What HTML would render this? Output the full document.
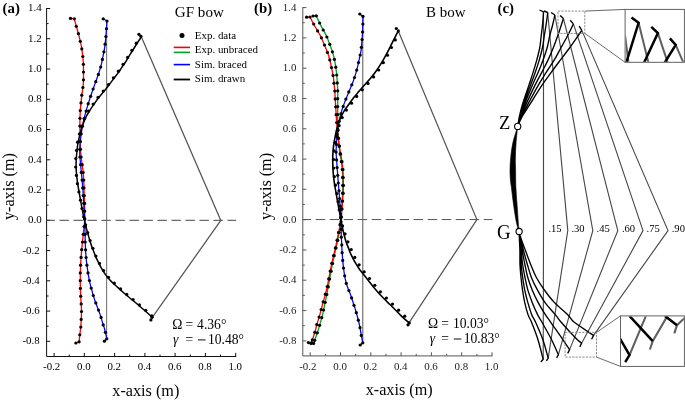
<!DOCTYPE html>
<html><head><meta charset="utf-8"><title>Bow figure</title>
<style>html,body{margin:0;padding:0;background:#fff;}body{width:685px;height:401px;overflow:hidden;font-family:"Liberation Serif",serif;}svg{display:block;will-change:transform;}</style></head>
<body>
<svg width="685" height="401" viewBox="0 0 685 401" font-family="'Liberation Serif', serif" fill="#000">
<rect width="685" height="401" fill="#fff"/>
<path d="M46.6 8V356.5H236.2M46.6 341.3h3.6M46.6 326.2h2M46.6 311.1h3.6M46.6 296h2M46.6 280.8h3.6M46.6 265.7h2M46.6 250.6h3.6M46.6 235.4h2M46.6 220.3h3.6M46.6 205.2h2M46.6 190h3.6M46.6 174.9h2M46.6 159.8h3.6M46.6 144.7h2M46.6 129.5h3.6M46.6 114.4h2M46.6 99.3h3.6M46.6 84.1h2M46.6 69h3.6M46.6 53.9h2M46.6 38.7h3.6M46.6 23.6h2M46.6 8.5h3.6M54.1 356.5v-3.6M69.2 356.5v-2M84.3 356.5v-3.6M99.5 356.5v-2M114.6 356.5v-3.6M129.7 356.5v-2M144.9 356.5v-3.6M160 356.5v-2M175.1 356.5v-3.6M190.3 356.5v-2M205.4 356.5v-3.6M220.5 356.5v-2M235.7 356.5v-3.6" fill="none" stroke="#111" stroke-width="1"/><g font-size="10.9" fill="#000"><g text-anchor="end"><text x="39.7" y="344.2">-0.8</text><text x="39.7" y="314">-0.6</text><text x="39.7" y="283.7">-0.4</text><text x="39.7" y="253.5">-0.2</text><text x="41.6" y="223.2">0.0</text><text x="41.6" y="192.9">0.2</text><text x="41.6" y="162.7">0.4</text><text x="41.6" y="132.4">0.6</text><text x="41.6" y="102.2">0.8</text><text x="41.6" y="71.9">1.0</text><text x="41.6" y="41.6">1.2</text><text x="41.6" y="11.4">1.4</text></g><g text-anchor="middle"><text x="51.7" y="370.1">-0.2</text><text x="83.9" y="370.1">0.0</text><text x="114.2" y="370.1">0.2</text><text x="144.5" y="370.1">0.4</text><text x="174.7" y="370.1">0.6</text><text x="205" y="370.1">0.8</text><text x="235.2" y="370.1">1.0</text></g></g>
<path d="M46.6 220.3H236.2" stroke="#444" stroke-width="1" stroke-dasharray="9.4 4.6" stroke-dashoffset="1.1" fill="none"/>
<path d="M106.65 21V338.8" stroke="#6a6a6a" stroke-width="1" fill="none"/><path d="M141.5 37.2L220.8 220.4L152.3 317.4" stroke="#555" stroke-width="1.25" fill="none" stroke-linejoin="miter"/>
<path d="M70.5 18.4L74.3 18.8C74.7 20.4 76 25.1 76.9 28.3C77.8 31.5 78.7 34.8 79.5 37.9C80.3 41 81 44.2 81.5 46.9C82 49.6 82.2 51.7 82.5 54.2C82.8 56.8 83.1 59.6 83.3 62.2C83.5 64.8 83.5 67.3 83.5 69.8C83.5 72.3 83.5 74.8 83.5 77.4C83.5 80 83.4 82.7 83.2 85.3C83 87.9 82.4 90.6 82.1 93C81.8 95.4 81.6 97.4 81.3 99.9C81 102.4 80.7 105.4 80.5 107.9C80.3 110.4 80.2 112.4 80.1 114.9C80 117.4 79.9 120.4 79.9 122.9C79.9 125.4 79.9 127.3 79.9 129.8C79.9 132.3 80 135.1 80.1 137.8C80.2 140.5 80.2 143.3 80.3 145.8C80.4 148.3 80.5 150.4 80.7 152.8C80.9 155.2 81.1 157.1 81.5 160C81.9 162.9 82.5 166.7 82.9 170C83.3 173.3 83.5 176.7 83.7 180C83.9 183.3 84 186.7 84.1 190C84.2 193.3 84.4 196.5 84.5 199.8C84.6 203.1 84.7 206.4 84.7 209.8C84.7 213.2 84.8 217.5 84.7 220.5C84.6 223.5 84.2 225.4 83.9 228C83.6 230.6 83.4 233.2 83.1 235.9C82.8 238.6 82.6 241.2 82.3 243.9C82 246.6 81.7 249.2 81.5 251.9C81.3 254.6 81.1 257.2 80.9 259.9C80.7 262.5 80.6 265.1 80.5 267.8C80.4 270.5 80.3 273.1 80.3 275.8C80.3 278.5 80.3 281.1 80.3 283.8C80.3 286.5 80.4 289.2 80.5 291.8C80.6 294.4 80.8 297.3 80.9 299.7C81 302.1 81.2 304.1 81.3 306C81.4 307.9 81.5 309 81.5 311C81.5 313 81.4 315.4 81.3 317.9C81.2 320.4 81.1 323.1 80.9 325.8C80.7 328.5 80.2 331.5 79.9 334.2C79.6 336.9 79.2 340.5 79.1 341.8L75.9 343" stroke="#f00" stroke-width="1.3" fill="none"/>
<path d="M103.2 18.8L107 21C106.9 22.5 106.6 26.8 106.4 29.9C106.2 33 105.9 36.3 105.6 39.5C105.3 42.7 104.9 46.3 104.4 49.3C103.9 52.2 103.3 54.7 102.8 57.2C102.3 59.7 102 61.8 101.4 64.2C100.8 66.6 100 69.4 99.2 71.8C98.4 74.2 97.6 76.4 96.8 78.8C96 81.2 95 83.6 94.2 86C93.4 88.4 92.6 90.5 91.7 93C90.8 95.5 89.9 98.2 89.1 100.9C88.3 103.6 87.5 106.2 86.7 108.9C85.9 111.6 85.1 114.4 84.5 116.9C83.9 119.4 83.4 121.4 82.9 123.9C82.4 126.4 81.9 129.2 81.5 131.8C81.1 134.5 80.8 137.3 80.5 139.8C80.2 142.3 80 144.5 79.9 146.8C79.8 149.1 79.7 151.5 79.7 153.7C79.8 155.9 80 157.3 80.2 160C80.4 162.7 80.8 166.7 81.1 170C81.4 173.3 81.8 176.7 82.1 180C82.4 183.3 82.7 186.7 82.9 190C83.1 193.3 83.3 196.7 83.5 200C83.7 203.3 83.9 206.6 84.1 210C84.3 213.4 84.6 217.5 84.7 220.5C84.8 223.5 84.8 225.4 84.9 228C85 230.6 85 233.3 85.1 236C85.2 238.7 85.2 241.3 85.3 244C85.4 246.7 85.5 249.3 85.7 252C85.9 254.7 86 257.4 86.3 260C86.6 262.6 86.9 265.2 87.3 267.8C87.7 270.4 88 273.1 88.5 275.8C89 278.5 89.5 281.1 90.1 283.8C90.7 286.5 91.5 289.2 92.3 291.8C93 294.4 93.9 297.5 94.6 299.7C95.3 301.9 96 303.3 96.6 305C97.2 306.7 97.7 308.2 98.4 310C99.1 311.8 99.9 313.8 100.6 315.9C101.3 318 101.9 320.7 102.6 322.9C103.3 325.1 104.1 327.1 104.6 329C105.1 330.9 105.4 332.4 105.8 334C106.2 335.6 106.6 338 106.8 338.8L104.4 341.2" stroke="#00f" stroke-width="1.25" fill="none"/>
<path d="M141.3 36.9C140.4 38.3 137.5 42.6 135.7 45.5C133.9 48.4 131.9 51.7 130.3 54.2C128.7 56.8 127.7 58.6 126.3 60.8C124.9 63 123.2 65.3 121.8 67.4C120.4 69.5 119.3 71.4 117.8 73.4C116.3 75.4 114.5 77.6 113 79.6C111.5 81.6 110.3 83.2 108.8 85.2C107.3 87.2 105.5 89.5 103.8 91.6C102.1 93.6 100.4 95.5 98.8 97.5C97.2 99.5 95.7 101.8 94.2 103.9C92.7 106 91.2 108.2 89.9 110.3C88.6 112.4 87.4 114.2 86.3 116.3C85.2 118.4 84.4 120.7 83.5 122.9C82.6 125.2 81.8 127.3 81.1 129.8C80.4 132.3 79.7 135.3 79.1 137.8C78.5 140.3 78.1 142.5 77.7 144.8C77.3 147.1 77.2 149.3 76.9 151.8C76.7 154.3 76.3 157.3 76.2 160C76.1 162.7 76 165.2 76.1 167.9C76.2 170.6 76.4 173.2 76.7 175.9C77 178.6 77.3 181.2 77.7 183.9C78.1 186.6 78.6 189.2 79.1 191.9C79.6 194.6 80 197.2 80.5 199.8C81 202.5 81.4 205.1 81.9 207.8C82.4 210.5 83 213.6 83.5 215.8C84 218 84.1 218.8 84.6 220.8C85.1 222.8 85.6 225.5 86.3 228C87 230.5 87.7 233.3 88.5 236C89.3 238.7 90.1 241.5 90.9 244C91.7 246.5 92.6 248.6 93.5 250.9C94.4 253.2 95.2 255.7 96.2 257.9C97.2 260.1 98.3 262.1 99.4 264.3C100.5 266.5 101.6 268.6 103 270.8C104.4 273 106.2 275.6 107.8 277.6C109.4 279.6 110.9 281 112.6 282.7C114.3 284.4 116.2 285.9 118 287.6C119.8 289.3 121.8 291.1 123.7 292.8C125.6 294.5 127.6 296.1 129.5 297.7C131.4 299.3 133.2 300.7 135.1 302.3C137 303.9 139.2 305.8 141.1 307.5C143 309.2 144.9 310.7 146.7 312.3C148.5 313.9 151.2 316.5 152.1 317.3" stroke="#000" stroke-width="1.5" fill="none"/>
<g fill="#000"><circle cx="74.3" cy="18.8" r="1.62"/><circle cx="76.3" cy="26.3" r="1.62"/><circle cx="78.4" cy="33.7" r="1.62"/><circle cx="80.3" cy="41.3" r="1.62"/><circle cx="81.8" cy="48.9" r="1.62"/><circle cx="82.8" cy="56.5" r="1.62"/><circle cx="83.4" cy="64.3" r="1.62"/><circle cx="83.5" cy="72" r="1.62"/><circle cx="83.5" cy="79.8" r="1.62"/><circle cx="82.9" cy="87.5" r="1.62"/><circle cx="81.8" cy="95.2" r="1.62"/><circle cx="81" cy="102.9" r="1.62"/><circle cx="80.3" cy="110.6" r="1.62"/><circle cx="80" cy="118.3" r="1.62"/><circle cx="79.9" cy="126.1" r="1.62"/><circle cx="80" cy="133.8" r="1.62"/><circle cx="80.2" cy="141.6" r="1.62"/><circle cx="80.5" cy="149.3" r="1.62"/><circle cx="81.1" cy="157" r="1.62"/><circle cx="82.2" cy="164.7" r="1.62"/><circle cx="83.1" cy="172.4" r="1.62"/><circle cx="83.7" cy="180.1" r="1.62"/><circle cx="84" cy="187.9" r="1.62"/><circle cx="84.3" cy="195.6" r="1.62"/><circle cx="84.6" cy="203.4" r="1.62"/><circle cx="84.7" cy="211.1" r="1.62"/><circle cx="84.7" cy="218.9" r="1.62"/><circle cx="84.1" cy="226.6" r="1.62"/><circle cx="83.3" cy="234.3" r="1.62"/><circle cx="82.5" cy="242" r="1.62"/><circle cx="81.7" cy="249.7" r="1.62"/><circle cx="81.1" cy="257.4" r="1.62"/><circle cx="80.6" cy="265.2" r="1.62"/><circle cx="80.3" cy="272.9" r="1.62"/><circle cx="80.3" cy="280.7" r="1.62"/><circle cx="80.4" cy="288.4" r="1.62"/><circle cx="80.7" cy="296.2" r="1.62"/><circle cx="81.2" cy="303.9" r="1.62"/><circle cx="81.5" cy="311.6" r="1.62"/><circle cx="81.2" cy="319.4" r="1.62"/><circle cx="80.8" cy="327.1" r="1.62"/><circle cx="79.8" cy="334.8" r="1.62"/><circle cx="70.5" cy="18.4" r="1.62"/><circle cx="75.9" cy="343" r="1.62"/><circle cx="79.1" cy="341.8" r="1.62"/><circle cx="107" cy="21" r="1.62"/><circle cx="106.5" cy="28.7" r="1.62"/><circle cx="105.9" cy="36.5" r="1.62"/><circle cx="105.1" cy="44.2" r="1.62"/><circle cx="103.9" cy="51.8" r="1.62"/><circle cx="102.4" cy="59.4" r="1.62"/><circle cx="100.7" cy="67" r="1.62"/><circle cx="98.4" cy="74.4" r="1.62"/><circle cx="95.8" cy="81.7" r="1.62"/><circle cx="93.1" cy="89" r="1.62"/><circle cx="90.6" cy="96.3" r="1.62"/><circle cx="88.2" cy="103.7" r="1.62"/><circle cx="86.1" cy="111.1" r="1.62"/><circle cx="84.1" cy="118.6" r="1.62"/><circle cx="82.5" cy="126.2" r="1.62"/><circle cx="81.2" cy="133.8" r="1.62"/><circle cx="80.3" cy="141.5" r="1.62"/><circle cx="79.8" cy="149.3" r="1.62"/><circle cx="79.9" cy="157" r="1.62"/><circle cx="80.6" cy="164.7" r="1.62"/><circle cx="81.3" cy="172.4" r="1.62"/><circle cx="82.1" cy="180.1" r="1.62"/><circle cx="82.7" cy="187.9" r="1.62"/><circle cx="83.2" cy="195.6" r="1.62"/><circle cx="83.7" cy="203.3" r="1.62"/><circle cx="84.2" cy="211.1" r="1.62"/><circle cx="84.6" cy="218.8" r="1.62"/><circle cx="84.9" cy="226.6" r="1.62"/><circle cx="85.1" cy="234.3" r="1.62"/><circle cx="85.2" cy="242" r="1.62"/><circle cx="85.6" cy="249.8" r="1.62"/><circle cx="86.1" cy="257.5" r="1.62"/><circle cx="86.9" cy="265.2" r="1.62"/><circle cx="88" cy="272.9" r="1.62"/><circle cx="89.4" cy="280.5" r="1.62"/><circle cx="91.2" cy="288.1" r="1.62"/><circle cx="93.3" cy="295.5" r="1.62"/><circle cx="95.8" cy="302.9" r="1.62"/><circle cx="98.5" cy="310.1" r="1.62"/><circle cx="101.1" cy="317.4" r="1.62"/><circle cx="103.2" cy="324.9" r="1.62"/><circle cx="105.4" cy="332.3" r="1.62"/><circle cx="103.2" cy="18.8" r="1.62"/><circle cx="104.4" cy="341.2" r="1.62"/><circle cx="106.8" cy="338.8" r="1.62"/><circle cx="140.9" cy="36.3" r="1.62"/><circle cx="136.3" cy="43.2" r="1.62"/><circle cx="131.9" cy="50.3" r="1.62"/><circle cx="127.6" cy="57.4" r="1.62"/><circle cx="123.1" cy="64.3" r="1.62"/><circle cx="118.4" cy="71.2" r="1.62"/><circle cx="113.4" cy="77.8" r="1.62"/><circle cx="108.4" cy="84.5" r="1.62"/><circle cx="103.3" cy="91" r="1.62"/><circle cx="98" cy="97.4" r="1.62"/><circle cx="93.2" cy="104.1" r="1.62"/><circle cx="88.6" cy="111" r="1.62"/><circle cx="84.6" cy="118.3" r="1.62"/><circle cx="81.7" cy="126.1" r="1.62"/><circle cx="79.4" cy="134" r="1.62"/><circle cx="77.6" cy="142.2" r="1.62"/><circle cx="76.5" cy="150.4" r="1.62"/><circle cx="75.8" cy="158.6" r="1.62"/><circle cx="75.7" cy="167" r="1.62"/><circle cx="76.4" cy="175.4" r="1.62"/><circle cx="77.4" cy="183.7" r="1.62"/><circle cx="78.9" cy="191.9" r="1.62"/><circle cx="80.5" cy="200.2" r="1.62"/><circle cx="82" cy="208.5" r="1.62"/><circle cx="83.7" cy="216.7" r="1.62"/><circle cx="85.6" cy="224.8" r="1.62"/><circle cx="87.7" cy="232.7" r="1.62"/><circle cx="90.1" cy="240.6" r="1.62"/><circle cx="92.9" cy="248.3" r="1.62"/><circle cx="95.9" cy="256" r="1.62"/><circle cx="99.5" cy="263.4" r="1.62"/><circle cx="103.6" cy="270.6" r="1.62"/><circle cx="108.5" cy="277.3" r="1.62"/><circle cx="114.3" cy="283.2" r="1.62"/><circle cx="120.5" cy="288.8" r="1.62"/><circle cx="126.7" cy="294.3" r="1.62"/><circle cx="133.1" cy="299.6" r="1.62"/><circle cx="139.4" cy="304.9" r="1.62"/><circle cx="145.7" cy="310.3" r="1.62"/><circle cx="151.8" cy="315.9" r="1.62"/><circle cx="138.9" cy="34.3" r="1.62"/><circle cx="150.9" cy="319.9" r="1.62"/><circle cx="152.1" cy="317.3" r="1.62"/></g>
<path d="M302.8 7.1V355.9H492.5M302.8 340.9h3.6M302.8 325.7h2M302.8 310.6h3.6M302.8 295.4h2M302.8 280.2h3.6M302.8 265.1h2M302.8 250h3.6M302.8 234.8h2M302.8 219.7h3.6M302.8 204.5h2M302.8 189.3h3.6M302.8 174.2h2M302.8 159.1h3.6M302.8 143.9h2M302.8 128.8h3.6M302.8 113.6h2M302.8 98.5h3.6M302.8 83.3h2M302.8 68.2h3.6M302.8 53h2M302.8 37.9h3.6M302.8 22.7h2M302.8 7.6h3.6M310.2 355.9v-3.6M325.4 355.9v-2M340.5 355.9v-3.6M355.6 355.9v-2M370.8 355.9v-3.6M385.9 355.9v-2M401.1 355.9v-3.6M416.2 355.9v-2M431.4 355.9v-3.6M446.6 355.9v-2M461.7 355.9v-3.6M476.9 355.9v-2M492 355.9v-3.6" fill="none" stroke="#555" stroke-width="1"/><g font-size="10.9" fill="#222"><g text-anchor="end"><text x="296.4" y="344">-0.8</text><text x="296.4" y="313.7">-0.6</text><text x="296.4" y="283.4">-0.4</text><text x="296.4" y="253.1">-0.2</text><text x="296.4" y="222.8">0.0</text><text x="296.4" y="192.4">0.2</text><text x="296.4" y="162.2">0.4</text><text x="296.4" y="131.8">0.6</text><text x="296.4" y="101.5">0.8</text><text x="296.4" y="71.2">1.0</text><text x="296.4" y="41">1.2</text><text x="296.4" y="10.7">1.4</text></g><g text-anchor="middle"><text x="307.8" y="369.5">-0.2</text><text x="340.1" y="369.5">0.0</text><text x="370.4" y="369.5">0.2</text><text x="400.7" y="369.5">0.4</text><text x="431" y="369.5">0.6</text><text x="461.3" y="369.5">0.8</text><text x="491.6" y="369.5">1.0</text></g></g>
<path d="M302.8 219.55H492.4" stroke="#555" stroke-width="1" stroke-dasharray="9.4 4.6" stroke-dashoffset="1.1" fill="none"/>
<path d="M362.8 16.4V342.8" stroke="#555" stroke-width="1" fill="none"/><path d="M398.4 31.2L476.9 219.6L409.2 322.6" stroke="#555" stroke-width="1.25" fill="none"/>
<path d="M313 16L316.3 15.8C317 17.3 318.9 21.7 320.5 24.9C322.1 28.1 324.6 32.3 325.9 34.9C327.2 37.5 327.5 38.4 328.3 40.5C329.1 42.6 330.1 45.1 330.9 47.5C331.7 49.9 332.6 52.4 333.3 54.8C334 57.2 334.4 59.4 334.9 61.8C335.4 64.2 335.8 66.9 336.1 69.4C336.4 71.9 336.7 74.3 336.9 76.8C337.1 79.2 337.3 81.9 337.4 84.1C337.5 86.3 337.6 87.3 337.7 90C337.8 92.7 337.7 96.7 337.7 100C337.7 103.3 337.7 106.7 337.7 110C337.7 113.3 337.7 116.7 337.7 120C337.7 123.3 337.8 126.5 337.9 129.8C338 133.1 338.2 136.5 338.5 139.8C338.8 143.1 339.1 146.4 339.5 149.8C339.9 153.2 340.6 156.6 341.1 160C341.6 163.4 342 166.7 342.3 170C342.6 173.3 342.6 176.7 342.7 180C342.8 183.3 342.8 186.7 342.7 190C342.6 193.3 342.5 196.7 342.3 200C342.1 203.3 341.7 206.5 341.5 209.8C341.3 213.1 341.2 216.6 340.9 219.6C340.6 222.6 340.3 225.3 339.9 228C339.5 230.7 339.1 233 338.5 236C337.9 239 337.2 242.6 336.5 245.9C335.8 249.2 334.9 252.6 334.2 255.9C333.5 259.2 332.8 262.5 332.1 265.8C331.4 269.1 330.8 272.4 330.2 275.8C329.6 279.2 328.9 283 328.4 286C327.8 289 327.4 291.5 326.9 294C326.4 296.5 326 298.5 325.5 300.9C325 303.3 324.4 305.8 323.9 308.3C323.4 310.8 322.9 313.5 322.3 315.9C321.7 318.3 321 320.6 320.3 322.9C319.6 325.2 319 327.5 318.3 329.8C317.6 332.1 316.7 334.5 315.9 336.8C315.1 339.1 314 342.3 313.6 343.4L311 343.4" stroke="#00a020" stroke-width="1.3" fill="none"/>
<path d="M306.6 17.2L310 17C310.8 18.6 313.1 23.2 314.9 26.3C316.6 29.4 319.2 33.5 320.5 35.9C321.8 38.3 321.7 38.6 322.5 40.5C323.3 42.4 324.5 45.1 325.5 47.5C326.5 49.9 327.5 52.4 328.3 54.8C329.1 57.2 329.7 59.4 330.3 61.8C330.9 64.2 331.4 66.9 331.9 69.4C332.4 71.9 332.9 74.3 333.3 76.8C333.7 79.2 333.9 81.9 334.1 84.1C334.3 86.3 334.5 87.3 334.7 90C334.9 92.7 335.1 96.7 335.3 100C335.5 103.3 335.7 106.7 335.9 110C336.1 113.3 336.3 116.7 336.5 120C336.7 123.3 337 126.5 337.3 129.8C337.6 133.1 338.1 136.5 338.5 139.8C338.9 143.1 339.4 146.4 339.9 149.8C340.4 153.2 341.2 156.6 341.7 160C342.2 163.4 342.6 166.7 342.9 170C343.2 173.3 343.2 176.7 343.3 180C343.4 183.3 343.4 186.7 343.3 190C343.2 193.3 342.9 196.7 342.7 200C342.5 203.3 342.2 206.5 341.9 209.8C341.6 213.1 341.4 216.6 341 219.6C340.6 222.6 340 225.3 339.5 228C339 230.7 338.5 233 337.9 236C337.3 239 336.6 242.6 335.9 245.9C335.2 249.2 334.3 252.6 333.5 255.9C332.7 259.2 332 262.5 331.3 265.8C330.6 269.1 330 272.4 329.3 275.8C328.6 279.2 328 283 327.4 286C326.8 289 326.1 291.5 325.5 294C324.9 296.5 324.2 298.5 323.5 300.9C322.8 303.3 322.2 305.8 321.5 308.3C320.8 310.8 320.2 313.5 319.5 315.9C318.8 318.3 318 320.6 317.3 322.9C316.6 325.2 316.1 327.5 315.5 329.8C314.9 332.1 314.1 334.6 313.4 336.8C312.7 339 311.7 341.8 311.4 342.8L308.4 342.6" stroke="#f00" stroke-width="1.3" fill="none"/>
<path d="M359.8 14L363 16.4C363 18.1 362.9 23.3 362.8 26.9C362.7 30.5 362.4 35.2 362.2 37.9C362 40.6 362 40.7 361.8 42.9C361.6 45.1 361.4 48.3 361 50.9C360.6 53.5 359.9 55.9 359.4 58.4C358.9 60.9 358.4 63.3 357.8 65.8C357.2 68.3 356.5 71 355.8 73.4C355.1 75.8 354.4 77.9 353.6 80.2C352.8 82.5 351.8 84.8 350.8 87.2C349.8 89.6 348.8 92 347.8 94.4C346.8 96.9 345.7 99.5 344.8 101.9C343.9 104.3 343.1 106.6 342.3 108.9C341.6 111.2 340.9 113.6 340.3 115.9C339.7 118.2 339.3 120.6 338.9 122.9C338.5 125.2 338 127.3 337.7 129.8C337.4 132.3 337.1 135.1 336.9 137.8C336.7 140.5 336.4 143.3 336.3 145.8C336.2 148.3 336.1 150.4 336.1 152.8C336.2 155.2 336.4 157.1 336.6 160C336.8 162.9 337.1 166.7 337.3 170C337.6 173.3 337.8 176.7 338.1 180C338.4 183.3 338.6 186.7 338.9 190C339.2 193.3 339.5 196.7 339.7 200C339.9 203.3 340.1 206.5 340.3 209.8C340.5 213.1 340.8 216.6 340.9 219.6C341 222.6 341 225.3 341.1 228C341.2 230.7 341.2 233.3 341.3 236C341.4 238.7 341.6 241.2 341.7 243.9C341.8 246.6 341.9 249.2 342.1 251.9C342.3 254.6 342.5 257.2 342.7 259.9C342.9 262.5 343.2 265.1 343.5 267.8C343.8 270.5 344.2 273.3 344.7 275.8C345.1 278.3 345.7 281 346.2 283C346.7 285 347.1 285.9 347.8 287.8C348.5 289.7 349.6 292.1 350.4 294.4C351.2 296.7 352 299.1 352.8 301.5C353.6 303.9 354.5 306.5 355.2 308.9C355.9 311.3 356.6 313.6 357.2 315.9C357.8 318.2 358.5 320.6 359 322.9C359.5 325.2 360 327.5 360.4 329.8C360.8 332.1 361.2 334.6 361.6 336.8C362 339 362.6 341.8 362.8 342.8L360.2 345" stroke="#00f" stroke-width="1.25" fill="none"/>
<path d="M398.3 30.9C397.5 32.4 395.3 36.7 393.7 39.9C392.1 43.1 390.2 47 388.7 49.9C387.2 52.8 386 55 384.7 57.4C383.4 59.8 382 62.1 380.7 64.2C379.4 66.3 378.1 68.2 376.7 70.2C375.3 72.2 373.7 74.3 372.2 76.2C370.7 78.1 369.2 79.8 367.8 81.4C366.4 83 365.1 84.3 363.6 86C362.1 87.7 360.4 89.7 358.8 91.6C357.2 93.5 355.4 95.5 353.8 97.5C352.2 99.5 350.9 101.4 349.4 103.5C347.9 105.6 346.1 107.8 344.8 109.9C343.5 112 342.5 113.8 341.5 115.9C340.5 118 339.7 120.1 338.9 122.3C338.1 124.5 337.5 126.6 336.9 128.8C336.3 131.1 335.8 133.4 335.3 135.8C334.8 138.2 334.3 140.9 333.9 143.4C333.5 145.9 333.3 148.1 333.1 150.8C332.9 153.5 332.7 156.7 332.7 159.5C332.7 162.3 332.8 165.2 332.9 167.9C333 170.6 333.2 173.2 333.5 175.9C333.8 178.6 334.1 181.2 334.5 183.9C334.9 186.6 335.4 189.2 335.9 191.9C336.4 194.6 336.8 197.2 337.3 199.8C337.8 202.5 338.3 205.5 338.7 207.8C339.1 210.1 339.5 211.8 339.9 213.8C340.3 215.8 340.5 217.4 340.9 219.6C341.3 221.8 341.8 224.6 342.3 227C342.8 229.4 343.3 231.7 343.9 234C344.5 236.3 345.1 238.6 345.8 240.9C346.6 243.2 347.5 245.6 348.4 247.9C349.3 250.2 350.1 252.6 351.2 254.9C352.3 257.2 353.5 259.7 354.8 261.9C356.1 264.1 357.3 266 358.8 268.2C360.3 270.4 362.2 272.7 363.8 274.8C365.4 276.9 366.9 278.7 368.4 280.6C369.9 282.5 371.1 284.1 372.6 286C374.2 287.9 375.9 289.9 377.7 292C379.5 294.1 381.7 296.2 383.7 298.3C385.7 300.4 387.7 302.3 389.7 304.3C391.7 306.3 393.7 308.3 395.7 310.3C397.7 312.3 399.4 314.2 401.7 316.3C403.9 318.4 407.9 321.8 409.2 322.9" stroke="#000" stroke-width="1.6" fill="none"/>
<g fill="#000"><circle cx="310" cy="17" r="1.62"/><circle cx="313.7" cy="24" r="1.62"/><circle cx="317.6" cy="30.9" r="1.62"/><circle cx="321.4" cy="37.8" r="1.62"/><circle cx="324.5" cy="45" r="1.62"/><circle cx="327.4" cy="52.4" r="1.62"/><circle cx="329.8" cy="59.9" r="1.62"/><circle cx="331.5" cy="67.6" r="1.62"/><circle cx="333.1" cy="75.4" r="1.62"/><circle cx="334" cy="83.2" r="1.62"/><circle cx="334.8" cy="91.1" r="1.62"/><circle cx="335.2" cy="98.9" r="1.62"/><circle cx="335.7" cy="106.8" r="1.62"/><circle cx="336.2" cy="114.7" r="1.62"/><circle cx="336.7" cy="122.6" r="1.62"/><circle cx="337.4" cy="130.5" r="1.62"/><circle cx="338.3" cy="138.3" r="1.62"/><circle cx="339.4" cy="146.1" r="1.62"/><circle cx="340.6" cy="153.9" r="1.62"/><circle cx="342" cy="161.7" r="1.62"/><circle cx="342.9" cy="169.6" r="1.62"/><circle cx="343.2" cy="177.5" r="1.62"/><circle cx="343.4" cy="185.4" r="1.62"/><circle cx="343.2" cy="193.3" r="1.62"/><circle cx="342.6" cy="201.1" r="1.62"/><circle cx="342" cy="209" r="1.62"/><circle cx="341.3" cy="216.9" r="1.62"/><circle cx="340.1" cy="224.7" r="1.62"/><circle cx="338.6" cy="232.4" r="1.62"/><circle cx="337.1" cy="240.2" r="1.62"/><circle cx="335.4" cy="247.9" r="1.62"/><circle cx="333.6" cy="255.6" r="1.62"/><circle cx="331.8" cy="263.3" r="1.62"/><circle cx="330.2" cy="271" r="1.62"/><circle cx="328.7" cy="278.8" r="1.62"/><circle cx="327.3" cy="286.6" r="1.62"/><circle cx="325.4" cy="294.2" r="1.62"/><circle cx="323.2" cy="301.8" r="1.62"/><circle cx="321.2" cy="309.5" r="1.62"/><circle cx="319.1" cy="317.1" r="1.62"/><circle cx="316.8" cy="324.6" r="1.62"/><circle cx="314.8" cy="332.3" r="1.62"/><circle cx="312.4" cy="339.8" r="1.62"/><circle cx="306.6" cy="17.2" r="1.62"/><circle cx="308.4" cy="342.6" r="1.62"/><circle cx="311.4" cy="342.8" r="1.62"/><circle cx="316.3" cy="15.8" r="1.62"/><circle cx="319.6" cy="23" r="1.62"/><circle cx="323.2" cy="30" r="1.62"/><circle cx="326.9" cy="37" r="1.62"/><circle cx="329.8" cy="44.3" r="1.62"/><circle cx="332.4" cy="51.8" r="1.62"/><circle cx="334.4" cy="59.4" r="1.62"/><circle cx="335.8" cy="67.2" r="1.62"/><circle cx="336.7" cy="75" r="1.62"/><circle cx="337.3" cy="82.9" r="1.62"/><circle cx="337.7" cy="90.8" r="1.62"/><circle cx="337.7" cy="98.7" r="1.62"/><circle cx="337.7" cy="106.6" r="1.62"/><circle cx="337.7" cy="114.5" r="1.62"/><circle cx="337.7" cy="122.4" r="1.62"/><circle cx="337.9" cy="130.3" r="1.62"/><circle cx="338.4" cy="138.2" r="1.62"/><circle cx="339.1" cy="146.1" r="1.62"/><circle cx="340.1" cy="153.9" r="1.62"/><circle cx="341.3" cy="161.7" r="1.62"/><circle cx="342.3" cy="169.5" r="1.62"/><circle cx="342.6" cy="177.4" r="1.62"/><circle cx="342.7" cy="185.3" r="1.62"/><circle cx="342.6" cy="193.2" r="1.62"/><circle cx="342.2" cy="201.1" r="1.62"/><circle cx="341.6" cy="209" r="1.62"/><circle cx="341.1" cy="216.9" r="1.62"/><circle cx="340.3" cy="224.7" r="1.62"/><circle cx="339.1" cy="232.6" r="1.62"/><circle cx="337.7" cy="240.3" r="1.62"/><circle cx="336" cy="248" r="1.62"/><circle cx="334.2" cy="255.7" r="1.62"/><circle cx="332.6" cy="263.5" r="1.62"/><circle cx="331.1" cy="271.2" r="1.62"/><circle cx="329.6" cy="279" r="1.62"/><circle cx="328.3" cy="286.8" r="1.62"/><circle cx="326.8" cy="294.5" r="1.62"/><circle cx="325.2" cy="302.3" r="1.62"/><circle cx="323.6" cy="310" r="1.62"/><circle cx="321.8" cy="317.7" r="1.62"/><circle cx="319.6" cy="325.3" r="1.62"/><circle cx="317.3" cy="332.8" r="1.62"/><circle cx="314.7" cy="340.3" r="1.62"/><circle cx="313" cy="16" r="1.62"/><circle cx="311" cy="343.4" r="1.62"/><circle cx="313.6" cy="343.4" r="1.62"/><circle cx="363" cy="16.4" r="1.62"/><circle cx="362.9" cy="24.1" r="1.62"/><circle cx="362.6" cy="31.9" r="1.62"/><circle cx="362.1" cy="39.6" r="1.62"/><circle cx="361.4" cy="47.3" r="1.62"/><circle cx="360.2" cy="55" r="1.62"/><circle cx="358.5" cy="62.6" r="1.62"/><circle cx="356.7" cy="70.1" r="1.62"/><circle cx="354.5" cy="77.5" r="1.62"/><circle cx="351.8" cy="84.8" r="1.62"/><circle cx="348.8" cy="91.9" r="1.62"/><circle cx="345.9" cy="99.1" r="1.62"/><circle cx="343.2" cy="106.4" r="1.62"/><circle cx="340.9" cy="113.8" r="1.62"/><circle cx="339.2" cy="121.3" r="1.62"/><circle cx="337.8" cy="129" r="1.62"/><circle cx="337" cy="136.7" r="1.62"/><circle cx="336.4" cy="144.4" r="1.62"/><circle cx="336.1" cy="152.1" r="1.62"/><circle cx="336.6" cy="159.9" r="1.62"/><circle cx="337.1" cy="167.6" r="1.62"/><circle cx="337.7" cy="175.3" r="1.62"/><circle cx="338.3" cy="183" r="1.62"/><circle cx="339" cy="190.8" r="1.62"/><circle cx="339.6" cy="198.5" r="1.62"/><circle cx="340.1" cy="206.2" r="1.62"/><circle cx="340.6" cy="214" r="1.62"/><circle cx="341" cy="221.7" r="1.62"/><circle cx="341.1" cy="229.4" r="1.62"/><circle cx="341.3" cy="237.2" r="1.62"/><circle cx="341.8" cy="244.9" r="1.62"/><circle cx="342.1" cy="252.7" r="1.62"/><circle cx="342.7" cy="260.4" r="1.62"/><circle cx="343.5" cy="268.1" r="1.62"/><circle cx="344.7" cy="275.8" r="1.62"/><circle cx="346.3" cy="283.4" r="1.62"/><circle cx="348.9" cy="290.6" r="1.62"/><circle cx="351.6" cy="297.9" r="1.62"/><circle cx="354" cy="305.3" r="1.62"/><circle cx="356.3" cy="312.7" r="1.62"/><circle cx="358.3" cy="320.2" r="1.62"/><circle cx="360" cy="327.7" r="1.62"/><circle cx="361.3" cy="335.4" r="1.62"/><circle cx="359.8" cy="14" r="1.62"/><circle cx="360.2" cy="345" r="1.62"/><circle cx="362.8" cy="342.8" r="1.62"/><circle cx="395.3" cy="39.9" r="1.62"/><circle cx="391.4" cy="47.5" r="1.62"/><circle cx="387.5" cy="55.2" r="1.62"/><circle cx="383.3" cy="62.7" r="1.62"/><circle cx="378.7" cy="70" r="1.62"/><circle cx="373.6" cy="76.9" r="1.62"/><circle cx="368" cy="83.4" r="1.62"/><circle cx="362.3" cy="89.8" r="1.62"/><circle cx="356.7" cy="96.4" r="1.62"/><circle cx="351.5" cy="103.2" r="1.62"/><circle cx="346.4" cy="110.1" r="1.62"/><circle cx="342.2" cy="117.6" r="1.62"/><circle cx="339.1" cy="125.7" r="1.62"/><circle cx="336.9" cy="134" r="1.62"/><circle cx="335.2" cy="142.4" r="1.62"/><circle cx="334.1" cy="150.9" r="1.62"/><circle cx="333.6" cy="159.5" r="1.62"/><circle cx="333.7" cy="168.1" r="1.62"/><circle cx="334.3" cy="176.7" r="1.62"/><circle cx="335.4" cy="185.2" r="1.62"/><circle cx="336.9" cy="193.6" r="1.62"/><circle cx="338.1" cy="201.7" r="1.62"/><circle cx="339.3" cy="209.8" r="1.62"/><circle cx="340.6" cy="217.9" r="1.62"/><circle cx="342.5" cy="225.9" r="1.62"/><circle cx="345" cy="233.9" r="1.62"/><circle cx="347.9" cy="241.8" r="1.62"/><circle cx="351.2" cy="249.6" r="1.62"/><circle cx="354.8" cy="257.4" r="1.62"/><circle cx="359.1" cy="264.8" r="1.62"/><circle cx="364.2" cy="271.8" r="1.62"/><circle cx="369.5" cy="278.5" r="1.62"/><circle cx="374.8" cy="285.3" r="1.62"/><circle cx="380.4" cy="291.8" r="1.62"/><circle cx="386.4" cy="298" r="1.62"/><circle cx="392.5" cy="304.1" r="1.62"/><circle cx="398.6" cy="310.2" r="1.62"/><circle cx="404.7" cy="316.2" r="1.62"/><circle cx="396.3" cy="28.5" r="1.62"/><circle cx="408" cy="324.8" r="1.62"/><circle cx="398.3" cy="30.9" r="1.62"/><circle cx="409.2" cy="322.9" r="1.62"/></g>
<g font-weight="bold" font-size="14.8"><text x="2.6" y="13.4">(a)</text><text x="254" y="13.4">(b)</text><text x="497.6" y="13.2">(c)</text></g>
<g font-size="15.1"><text x="174.8" y="17.2">GF bow</text></g><g font-size="15"><text x="426" y="17.2">B bow</text></g>
<circle cx="182" cy="35.4" r="2.5"/>
<path d="M173.7 47.4H190" stroke="#f00" stroke-width="1.6"/><path d="M173.7 52.4H190" stroke="#00a020" stroke-width="1.6"/><path d="M173.7 64.6H190" stroke="#00f" stroke-width="1.6"/><path d="M173.7 79.5H190" stroke="#000" stroke-width="1.8"/>
<g font-size="10.95"><text x="194.8" y="38.7">Exp. data</text><text x="194.8" y="53.2">Exp. unbraced</text><text x="194.8" y="67.8">Sim. braced</text><text x="194.8" y="82.4">Sim. drawn</text></g>
<g font-size="13.6"><text y="329.2"><tspan x="172.2">Ω</tspan><tspan x="185.5">=</tspan><tspan x="197.1">4.36°</tspan></text><text y="343.9"><tspan x="173.1" font-style="italic">γ</tspan><tspan x="185.5">=</tspan><tspan x="207.9">10.48°</tspan></text><path d="M198 339.9h7.6" stroke="#000" stroke-width="0.95" fill="none"/><text y="328.4"><tspan x="428">Ω</tspan><tspan x="441.3">=</tspan><tspan x="452.9">10.03°</tspan></text><text y="343"><tspan x="429.8" font-style="italic">γ</tspan><tspan x="441.3">=</tspan><tspan x="463.7">10.83°</tspan></text><path d="M453.8 339h7.6" stroke="#000" stroke-width="0.95" fill="none"/></g>
<g font-size="16.2" text-anchor="middle"><text x="145.8" y="395.6">x-axis (m)</text><text x="399.2" y="394.6">x-axis (m)</text><text transform="translate(14.3 186.6) rotate(-90)">y-axis (m)</text><text transform="translate(271 186.4) rotate(-90)">y-axis (m)</text></g>
<defs><clipPath id="cu"><rect x="625.6" y="9.9" width="58.3" height="51.9"/></clipPath><clipPath id="cl"><rect x="621" y="316.4" width="62.9" height="49.5"/></clipPath></defs>
<path d="M543.5 11.8L543.5 231.5L543.2 359.3M547.7 12.5L567.8 230.6L548.2 358.1M554.9 15L592.8 230.6L558.4 354.9M563.4 18.5L617.8 230.6L569.6 349.6M573.4 23.9L643 230.6L581.6 343.2M581.8 30.4L668 230.6L593.6 335.4" stroke="#474747" stroke-width="1.12" fill="none" stroke-linejoin="miter"/><path d="M543.5 11.8C543.4 13.8 543 20.1 542.6 24C542.2 27.9 541.8 31.1 541.3 35C540.8 38.9 540.5 43.4 539.8 47.5C539 51.6 537.9 55.8 536.8 59.9C535.7 64 534.4 68.2 533.1 72.4C531.8 76.6 530.8 79.5 529 84.9C527.2 90.3 523.9 99.5 522.3 104.9C520.7 110.3 520 113.8 519.2 117.4C518.4 121 518 124.9 517.7 126.4M539.5 10L543.5 11.8M519.1 231.5C519.1 232.7 519.3 235.3 519.4 238.5C519.5 241.7 519.8 246.5 519.9 250.9C520 255.3 519.8 260.6 520 265C520.2 269.4 520.6 273.4 521 277.5C521.4 281.6 521.9 285.8 522.5 289.9C523.1 294 523.8 298.2 524.7 302.4C525.6 306.6 527 311.6 528.1 314.9C529.2 318.2 530 318.1 531.6 322.3C533.2 326.5 536.1 333.6 538 339.8C539.9 346 542.3 356.1 543.2 359.3L540.8 362M547.7 12.5C547.5 14.4 546.8 20.2 546.2 24C545.7 27.8 545 31.1 544.4 35C543.8 38.9 543.4 43.4 542.5 47.5C541.6 51.6 540.5 55.8 539.3 59.9C538.1 64 536.7 68.2 535.2 72.4C533.8 76.6 532.6 79.5 530.6 84.9C528.6 90.3 525.1 99.5 523.2 104.9C521.4 110.3 520.4 113.8 519.5 117.4C518.6 121 518 124.9 517.7 126.4M544 11L547.7 12.5M519.1 231.5C519.2 232.7 519.4 235.3 519.6 238.5C519.8 241.7 520.1 246.5 520.4 250.9C520.7 255.3 520.8 260.6 521.2 265C521.6 269.4 522.1 273.4 522.7 277.5C523.3 281.6 523.9 285.8 524.7 289.9C525.6 294 526.6 298.2 527.8 302.4C529 306.6 530.5 311.6 531.8 314.9C533.1 318.2 533.8 318.1 535.6 322.3C537.5 326.5 540.8 333.8 542.9 339.8C545 345.8 547.3 355.1 548.2 358.1L546.4 360.8M554.9 15C554.5 16.7 553.4 21.7 552.6 25C551.8 28.3 550.8 31.2 549.9 35C549 38.8 548.3 43.4 547.2 47.5C546.1 51.6 544.6 55.8 543.1 59.9C541.6 64 539.9 68.2 538.1 72.4C536.3 76.6 534.8 79.5 532.5 84.9C530.2 90.3 526.3 99.5 524.2 104.9C522.1 110.3 521 113.8 519.9 117.4C518.8 121 518.1 124.9 517.7 126.4M551.1 12.5L554.9 15M519.1 231.5C519.2 232.7 519.6 235.3 519.9 238.5C520.2 241.7 520.6 246.5 521.1 250.9C521.6 255.3 522.1 260.6 522.7 265C523.4 269.4 524.1 273.4 525 277.5C525.9 281.6 526.6 285.8 527.8 289.9C529 294 530.6 298.2 532.2 302.4C533.9 306.6 536.1 311.6 537.7 314.9C539.3 318.2 539.7 318.1 542 322.3C544.3 326.5 548.9 334.4 551.6 339.8C554.3 345.2 557.3 352.4 558.4 354.9L556.6 357.9M563.4 18.5C562.5 21.2 559.7 30.2 558 35C556.3 39.8 555 43.4 553.4 47.5C551.8 51.6 550 55.8 548.1 59.9C546.2 64 543.9 68.2 541.8 72.4C539.6 76.6 537.9 79.5 535.2 84.9C532.5 90.3 528.2 99.5 525.7 104.9C523.2 110.3 521.7 113.8 520.4 117.4C519.1 121 518.2 124.9 517.7 126.4M560.1 15.5L563.4 18.5M519.1 231.5C519.3 232.7 519.7 235.3 520.2 238.5C520.7 241.7 521.4 246.5 522.2 250.9C523 255.3 524.1 260.6 525 265C525.9 269.4 526.6 273.4 527.8 277.5C529 281.6 530.5 285.8 532.2 289.9C533.9 294 535.9 298.2 538.1 302.4C540.3 306.6 543.4 311.6 545.5 314.9C547.6 318.2 547.9 318.1 550.8 322.3C553.7 326.5 559.9 335.2 563 339.8C566.1 344.4 568.5 348 569.6 349.6L567.7 353.4M573.4 23.9C572.5 25.8 570 31.1 568 35C566 38.9 563.4 43.4 561.1 47.5C558.8 51.6 556.8 55.8 554.3 59.9C551.8 64 548.8 68.2 546.2 72.4C543.6 76.6 541.6 79.5 538.5 84.9C535.4 90.3 530.4 99.5 527.5 104.9C524.6 110.3 522.6 113.8 521 117.4C519.4 121 518.2 124.9 517.7 126.4M570.2 20.2L573.4 23.9M519.1 231.5C519.4 232.7 519.9 235.3 520.6 238.5C521.4 241.7 522.5 246.5 523.6 250.9C524.8 255.3 526.2 260.6 527.5 265C528.8 269.4 529.8 273.4 531.4 277.5C533 281.6 535.1 285.8 537.4 289.9C539.6 294 541.9 298.2 544.9 302.4C547.9 306.6 552.8 311.6 555.5 314.9C558.2 318.2 557.9 318.4 561.2 322.3C564.6 326.2 572.2 334.5 575.6 338C579 341.5 580.6 342.3 581.6 343.2L579.8 346.9M581.8 30.4C581.3 31.2 580.6 32.1 578.6 35C576.6 37.9 572.9 43.4 569.9 47.5C566.9 51.6 563.6 55.8 560.5 59.9C557.4 64 554.2 68.2 551.2 72.4C548.2 76.6 545.8 79.5 542.2 84.9C538.6 90.3 532.9 99.5 529.5 104.9C526.1 110.3 523.7 113.8 521.7 117.4C519.7 121 518.4 124.9 517.7 126.4M579.2 26.1L581.8 30.4M519.1 231.5C519.4 232.7 519.9 235.3 521 238.5C522.1 241.7 524 246.5 525.6 250.9C527.2 255.3 529.1 260.6 530.9 265C532.7 269.4 534.2 273.4 536.4 277.5C538.6 281.6 541.3 285.8 544.3 289.9C547.3 294 550.3 298.2 554.3 302.4C558.2 306.6 564.7 311.6 568 314.9C571.3 318.2 570 318.9 574.3 322.3C578.6 325.7 590.4 333.2 593.6 335.4L591.6 339.2" stroke="#000" stroke-width="1.35" fill="none" stroke-linejoin="round"/><path d="M517.7 126.4C516.9 129.1 514.1 137.3 512.9 142.5C511.7 147.7 511.2 152.8 510.7 157.4C510.2 162 510.1 166.2 510 170C509.9 173.8 510.2 177.1 510.4 180C510.6 182.9 510.9 183.3 511.4 187.5C511.9 191.7 512.8 199.2 513.6 205C514.4 210.8 515.5 218 516.4 222.4C517.3 226.8 518.6 230 519.1 231.5L519.1 231.5C519 230 518.6 226.8 518.3 222.4C518 218 517.5 210.8 517.1 205C516.7 199.2 516.1 193.3 515.9 187.5C515.6 181.7 515.7 175 515.6 170C515.5 165 515.3 162 515.4 157.4C515.5 152.8 515.7 147.7 516.1 142.5C516.5 137.3 517.4 129.1 517.7 126.4Z" fill="#000" stroke="#000" stroke-width="0.6"/><circle cx="517.7" cy="126.4" r="3.1" fill="#fff" stroke="#000" stroke-width="1.1"/><circle cx="519.1" cy="231.5" r="3.1" fill="#fff" stroke="#000" stroke-width="1.1"/><text x="499.0" y="128.9" font-size="18.6">Z</text><text transform="translate(497.0 238.5) scale(0.9 1)" font-size="21">G</text><g font-size="10.6"><text x="548.4" y="232.1">.15</text><text x="571.4" y="232.1">.30</text><text x="596.5" y="232.1">.45</text><text x="621.9" y="232.1">.60</text><text x="646.5" y="232.1">.75</text><text x="671.7" y="232.1">.90</text></g><path d="M558 11.1H584.8V33.4H558ZM565.1 332.4H596.5V357.1H565.1Z" fill="none" stroke="#858585" stroke-width="0.95" stroke-dasharray="2.2 1.2"/><path d="M584.8 11.1L625.1 9.4M584.8 33.4L625.1 62.3M596.5 332.4L620.5 315.9M596.5 357.1L620.5 366.4" stroke="#444" stroke-width="0.8" fill="none"/><rect x="625.1" y="9.4" width="59.3" height="52.9" fill="#fff" stroke="#5a5a5a" stroke-width="0.95"/><g clip-path="url(#cu)"><path d="M625.1 35.5L628.5 62.8M638.6 22.8L648.5 62.8M657.9 33.1L667.8 62.8M675.7 44.9L683.5 62.8" stroke="#606060" stroke-width="2" fill="none"/><path d="M631.5 17.4L638.6 22.8L626.2 62.8M651.3 26.8L657.9 33.1L644 62.8M669.9 38.4L675.7 44.9L664.6 62.8" stroke="#000" stroke-width="2.5" fill="none" stroke-linejoin="miter"/></g><rect x="620.5" y="315.9" width="63.9" height="50.5" fill="#fff" stroke="#5a5a5a" stroke-width="0.95"/><g clip-path="url(#cl)"><path d="M629.5 355.1L645.9 315.9M649.9 349.5L652.7 341.1L667.4 315.9M674.3 333.3L677 325.2L686 316.8" stroke="#606060" stroke-width="2.1" fill="none"/><path d="M620 338.5L629.5 355.1L625.2 362.1M629.5 315.9L652.7 341.1M664.9 315.9L677 325.2" stroke="#000" stroke-width="2.5" fill="none" stroke-linejoin="miter"/></g>
</svg>
</body></html>
